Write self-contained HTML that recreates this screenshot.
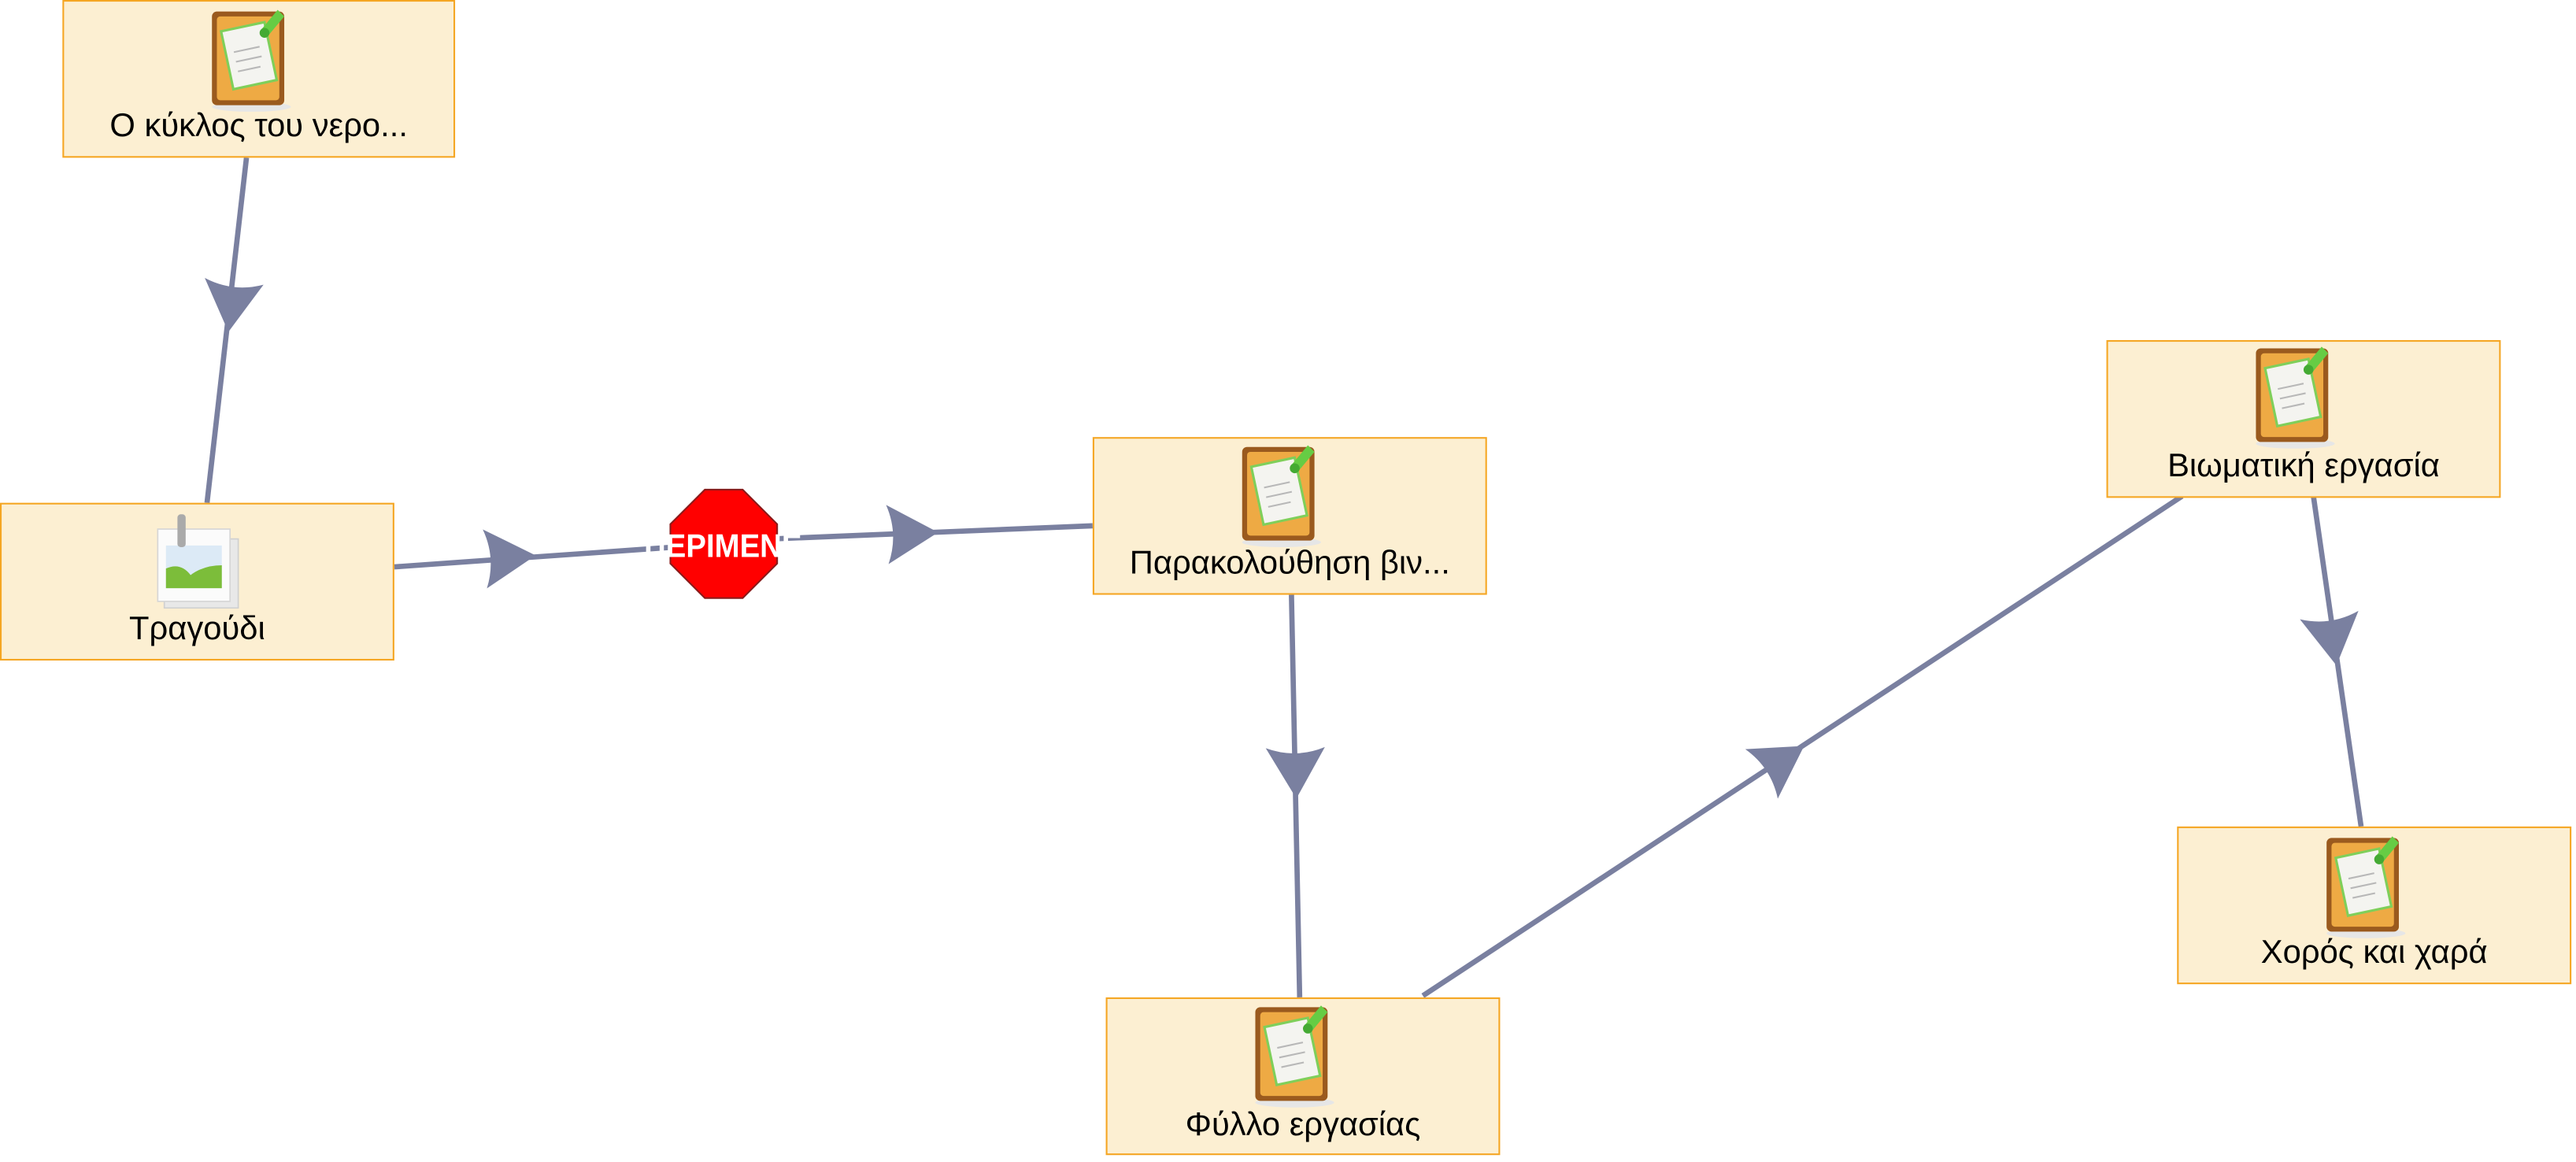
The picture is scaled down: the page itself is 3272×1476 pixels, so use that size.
<!DOCTYPE html>
<html><head><meta charset="utf-8"><style>
html,body{margin:0;padding:0;background:#fff;width:3272px;height:1476px;overflow:hidden}
svg{display:block}
text{font-family:"Liberation Sans","DejaVu Sans",sans-serif}
</style></head><body>
<svg width="3272" height="1476" viewBox="0 0 1567.8 707.2" preserveAspectRatio="none" xmlns="http://www.w3.org/2000/svg">
<defs>
<g id="clip">
  <ellipse cx="2" cy="31" rx="24" ry="3" fill="#e6e6e6"/>
  <rect x="-22" y="-27" width="44" height="57" rx="3" fill="#9a5a1e"/>
  <rect x="-19" y="-24" width="38" height="51" rx="2" fill="#eeaa44"/>
  <g transform="rotate(-12)">
    <rect x="-13" y="-18" width="27" height="36" fill="#f4f4f0" stroke="#7fcf5a" stroke-width="1.5"/>
    <line x1="-8" y1="-4" x2="8" y2="-4" stroke="#b8b8b8" stroke-width="1"/>
    <line x1="-8" y1="2" x2="8" y2="2" stroke="#b8b8b8" stroke-width="1"/>
    <line x1="-8" y1="8" x2="6" y2="8" stroke="#b8b8b8" stroke-width="1"/>
  </g>
  <path d="M8,-16 L18,-28 L22,-24 L12,-12 Z" fill="#66cc44"/>
  <circle cx="10" cy="-14" r="3" fill="#44aa33"/>
</g>
<path id="arr" d="M0,0 L-31,-18 Q-24,0 -31,18 Z" fill="#7a80a0"/>
</defs>

<g stroke="#7a80a0" stroke-width="3.2" fill="none">
  <line x1="150" y1="96" x2="126" y2="306"/>
  <line x1="240" y1="345" x2="410" y2="333"/>
  <line x1="470" y1="328" x2="665" y2="320"/>
  <line x1="786" y1="362" x2="791" y2="607"/>
  <line x1="866" y1="606" x2="1328" y2="302"/>
  <line x1="1408" y1="302" x2="1437" y2="503"/>
</g>
<use href="#arr" transform="translate(139,202) rotate(96.5)"/>
<use href="#arr" transform="translate(326,338) rotate(-4)"/>
<use href="#arr" transform="translate(571,324) rotate(-2.4)"/>
<use href="#arr" transform="translate(789,486) rotate(88.8)"/>
<use href="#arr" transform="translate(1098,454) rotate(-33.3)"/>
<use href="#arr" transform="translate(1422,405) rotate(81.8)"/>

<g fill="#fcefd2" stroke="#f5a623" stroke-width="1">
  <rect x="38.5" y="0.5" width="238" height="95"/>
  <rect x="0.5" y="306.5" width="239" height="95"/>
  <rect x="665.5" y="266.5" width="239" height="95"/>
  <rect x="673.5" y="607.5" width="239" height="95"/>
  <rect x="1282.5" y="207.5" width="239" height="95"/>
  <rect x="1325.5" y="503.5" width="239" height="95"/>
</g>

<use href="#clip" transform="translate(151,34)"/>
<use href="#clip" transform="translate(778,299)"/>
<use href="#clip" transform="translate(786,640)"/>
<use href="#clip" transform="translate(1395,239)"/>
<use href="#clip" transform="translate(1438,537)"/>

<g transform="translate(120,340)">
  <rect x="-20" y="-12" width="45" height="42" fill="#e8e8e8" stroke="#d0d0d0" stroke-width="0.8"/>
  <rect x="-24" y="-18" width="44" height="44" fill="#fbfbfb" stroke="#d6d6d6" stroke-width="0.8"/>
  <rect x="-19" y="-8" width="34" height="26" fill="#dceaf6"/>
  <path d="M-19,18 L-19,6 Q-10,2 -4,10 Q4,4 15,4 L15,18 Z" fill="#7cbd3a"/>
  <rect x="-12" y="-27" width="5" height="20" rx="2" fill="#aaaaaa"/>
</g>

<g font-size="20" fill="#000" text-anchor="middle">
  <text x="157.5" y="83">Ο κύκλος του νερο...</text>
  <text x="120" y="389">Τραγούδι</text>
  <text x="785" y="349">Παρακολούθηση βιν...</text>
  <text x="793" y="691">Φύλλο εργασίας</text>
  <text x="1402" y="290">Βιωματική εργασία</text>
  <text x="1445" y="586">Χορός και χαρά</text>
</g>

<polygon points="429,298 452,298 473,319 473,343 452,364 429,364 408,343 408,319" fill="#ff0000" stroke="#8a1a1a" stroke-width="1"/>
<text x="440" y="339" font-size="20" font-weight="bold" fill="#fff" text-anchor="middle" textLength="96" lengthAdjust="spacingAndGlyphs">ΠΕΡΙΜΕΝΕ</text>
</svg>
</body></html>
